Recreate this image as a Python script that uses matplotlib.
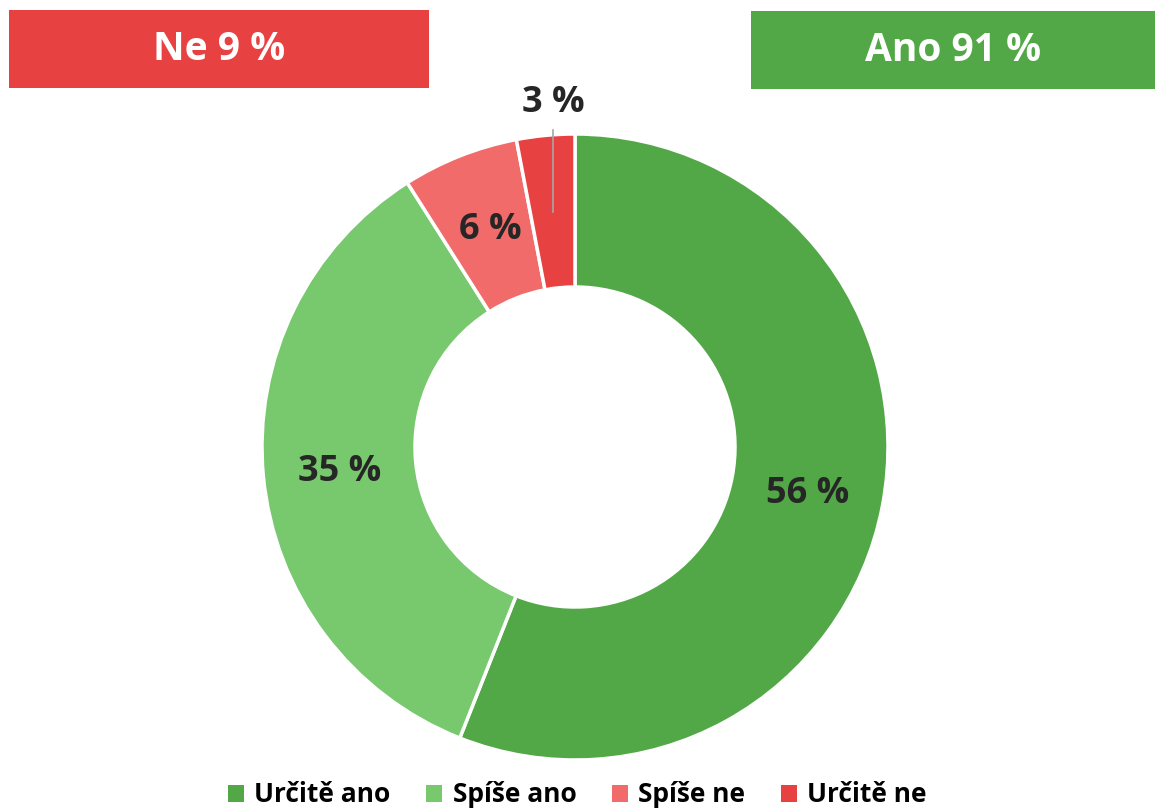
import matplotlib
matplotlib.use('Agg')
import matplotlib.pyplot as plt
from matplotlib.patches import Patch, Rectangle

# data
categories = ['Určitě ano', 'Spíše ano', 'Spíše ne', 'Určitě ne']
values = [56, 35, 6, 3]
labels = ['56 %', '35 %', '6 %', '3 %']
colors = ['#52A846', '#78C86E', '#F26B6B', '#E84142']
summary = ['Ne 9 %', 'Ano 91 %']
summary_colors = ['#E84142', '#52A846']

W, H = 1155, 809
fig = plt.figure(figsize=(W / 100, H / 100), dpi=100)
ax = fig.add_axes([0, 0, 1, 1])

cx, cy = 575, H - 447
R, r_in = 313, 160
wedges, _ = ax.pie(values, colors=colors, startangle=90, counterclock=False,
                   center=(cx, cy), radius=R,
                   wedgeprops=dict(width=R - r_in, edgecolor='white', linewidth=2.5))
ax.set_xlim(0, W)
ax.set_ylim(0, H)
ax.set_aspect('equal')
ax.axis('off')

label_font = dict(family=['Open Sans', 'DejaVu Sans'], fontweight='bold',
                  fontsize=26, color='#262626', ha='center', va='center')
# label positions (px from top-left)
label_pos = [(808, 494), (340, 472), (490, 230), (553, 103)]
for (x, y), t in zip(label_pos, labels):
    ax.text(x, H - y, t, **label_font)
# leader line for the small slice
ax.plot([553, 553], [H - 130, H - 212], color='#A6A6A6', lw=1.2)

# summary boxes
boxes = [(9, 10, 420, 78), (751, 11, 404, 78)]
for (x, y, w, h), t, c in zip(boxes, summary, summary_colors):
    ax.add_patch(Rectangle((x, H - y - h), w, h, facecolor=c, edgecolor='none'))
    ax.text(x + w / 2, H - y - h / 2, t, color='white', fontsize=28, fontweight='bold',
            family=['Open Sans', 'DejaVu Sans'], ha='center', va='center')

handles = [Patch(facecolor=c, edgecolor='none') for c in colors]
fig.legend(handles, categories, loc='center', bbox_to_anchor=(0.5, 1 - 795 / H),
           ncol=4, frameon=False, handlelength=0.6, handleheight=0.6,
           handletextpad=0.4, columnspacing=1.35,
           prop=dict(family=['Open Sans', 'DejaVu Sans'], weight='bold', size=19))

fig.savefig('out.png', dpi=100)
